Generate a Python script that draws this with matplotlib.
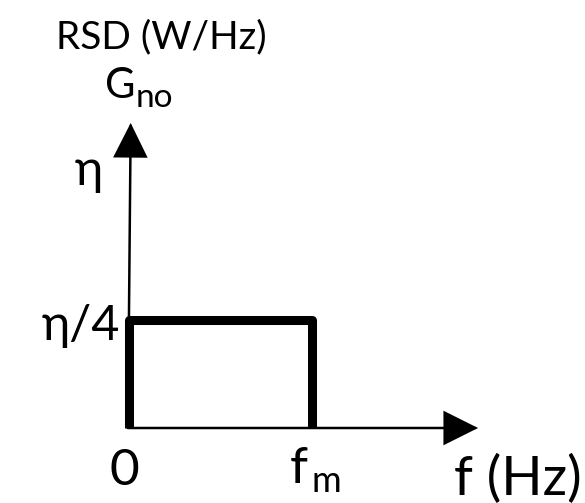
import matplotlib
matplotlib.use("Agg")
import matplotlib.pyplot as plt
from matplotlib.patches import FancyArrowPatch

# Rectangular spectrum: level eta/4 from f = 0 up to f = fm
freq = [0.0, 0.0, 1.0, 1.0]          # in units of fm
level = [0.0, 0.25, 0.25, 0.0]       # in units of eta
axis_x_end = 1.91                     # end of the frequency axis (units of fm)
axis_y_end = 0.706                    # end of the density axis (units of eta)
axis_y_top_shift = 0.012              # slight lean of the hand-drawn vertical axis

W, H = 585, 503
FONT = ["Lato", "Open Sans", "DejaVu Sans"]

fig = plt.figure(figsize=(W / 100, H / 100), dpi=100)
ax = fig.add_axes([0, 0, 1, 1])

# pixel scale of the data units
x0_px, px_per_f = 128.5, 183.0
y0_px, px_per_eta = 428.0, 432.0
ax.set_xlim(-x0_px / px_per_f, (W - x0_px) / px_per_f)
ax.set_ylim((y0_px - H) / px_per_eta, y0_px / px_per_eta)
ax.axis("off")


def arrow(p0, p1):
    a = FancyArrowPatch(p0, p1, arrowstyle="-|>,head_length=2.2,head_width=1.1",
                        mutation_scale=10, lw=1.8, color="black",
                        shrinkA=0, shrinkB=0, joinstyle="miter")
    ax.add_patch(a)


# axes
arrow((0, 0), (axis_x_end, 0))
arrow((-0.003, 0), (axis_y_top_shift, axis_y_end))

# spectrum
ax.plot(freq, level, color="black", lw=6.5, solid_joinstyle="round",
        solid_capstyle="butt")


def px_text(x, y, s, size, ha="left", va="baseline"):
    fig.text(x / W, 1 - y / H, s, fontsize=size, family=FONT, ha=ha, va=va,
             color="black")


px_text(56, 48, "RSD (W/Hz)", 28)
px_text(105, 98, "G", 30)
px_text(136, 107, "no", 24)
px_text(88.5, 185, "η", 35, ha="center")
px_text(80.5, 340, "η/4", 35, ha="center")
px_text(124.5, 485, "0", 37, ha="center")
px_text(290, 483, "f", 37)
px_text(311, 492, "m", 26)
px_text(454, 495, "f (Hz)", 39)

fig.savefig("out.png", dpi=100)
